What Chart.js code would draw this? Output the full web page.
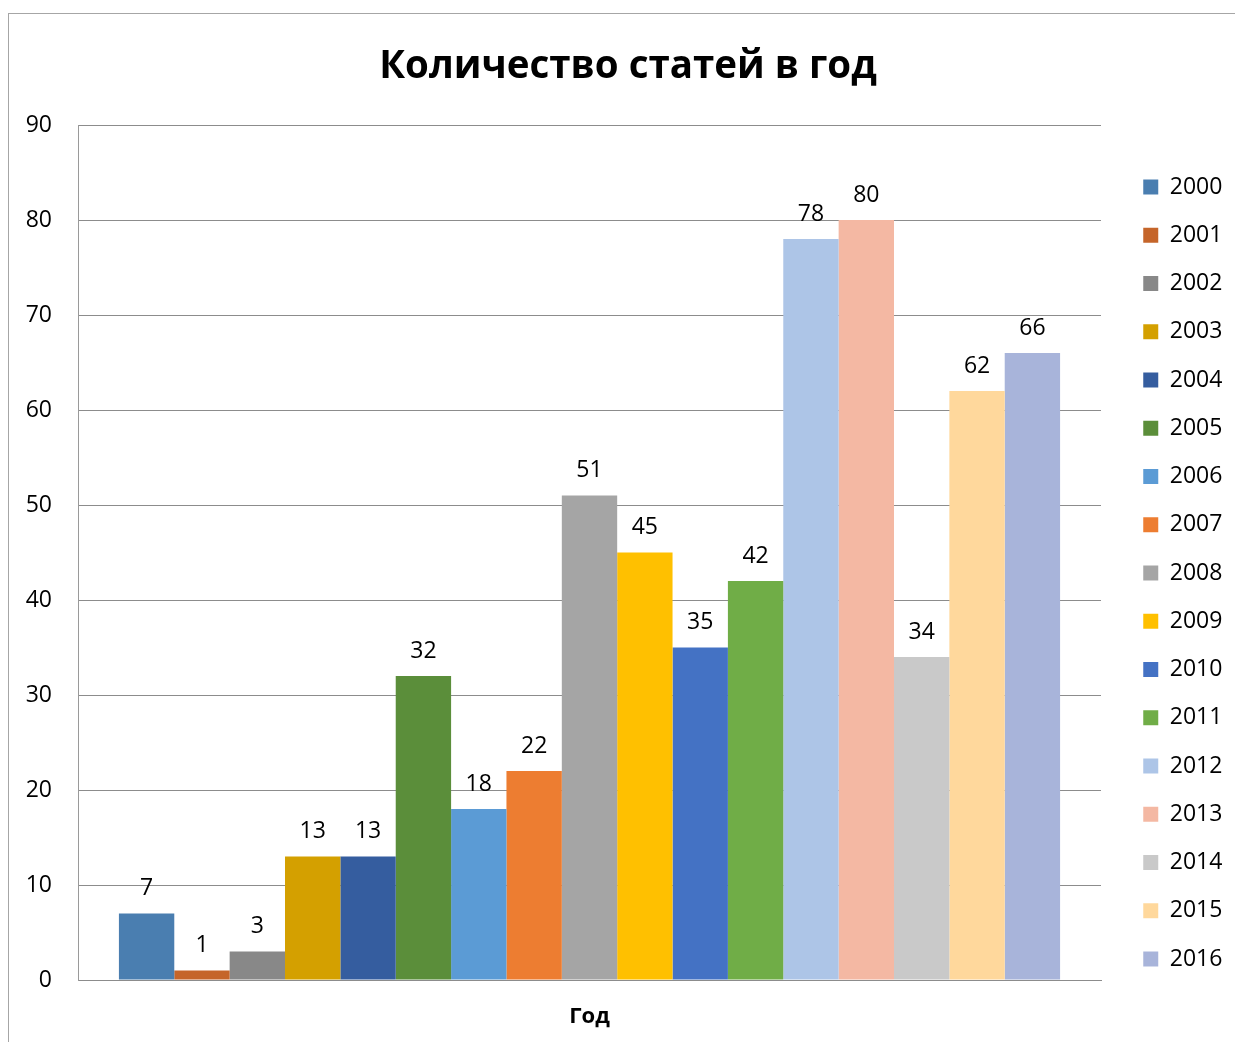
<!DOCTYPE html>
<html>
<head>
<meta charset="utf-8">
<title>Количество статей в год</title>
<script src="https://cdn.jsdelivr.net/npm/chart.js@4.4.1/dist/chart.umd.min.js"></script>
<style>
  html, body { margin: 0; padding: 0; background: #fff; overflow: hidden; }
  #frame {
    position: absolute; left: 8px; top: 13px;
    width: 1300px; height: 1100px;
    border: 1px solid #a6a6a6;
  }
  #myChart { position: absolute; left: 0; top: 0; }
</style>
</head>
<body>
<div id="frame"></div>
<canvas id="myChart" width="1235" height="1042"></canvas>
<script>
"use strict";
// data
var categories = ['Год'];
var years = ['2000', '2001', '2002', '2003', '2004', '2005', '2006', '2007', '2008',
  '2009', '2010', '2011', '2012', '2013', '2014', '2015', '2016'];
var counts = [7, 1, 3, 13, 13, 32, 18, 22, 51, 45, 35, 42, 78, 80, 34, 62, 66];
var colors = ['#4a7eb0', '#c5652a', '#888888', '#d4a000', '#355d9f', '#5b8e3a',
  '#5b9bd5', '#ed7d31', '#a5a5a5', '#ffc000', '#4472c4', '#70ad47',
  '#adc5e7', '#f4b8a3', '#c9c9c9', '#ffd89c', '#a8b4da'];
var yTicks = { min: 0, max: 90, step: 10 };

var FONT = "'Open Sans', 'Noto Sans', sans-serif";
Chart.defaults.color = '#000';
Chart.defaults.font.family = FONT;

var datasets = [];
for (var i = 0; i < years.length; i++) {
  datasets.push({
    label: years[i],
    data: [counts[i]],
    backgroundColor: colors[i],
    borderWidth: 0
  });
}

// value labels above each bar
var valueLabels = {
  id: 'valueLabels',
  afterDatasetsDraw: function (chart) {
    var ctx = chart.ctx;
    ctx.save();
    ctx.font = '23px ' + FONT;
    ctx.fillStyle = '#000';
    ctx.textAlign = 'center';
    ctx.textBaseline = 'middle';
    chart.data.datasets.forEach(function (ds, i) {
      var bar = chart.getDatasetMeta(i).data[0];
      ctx.fillText(String(ds.data[0]), bar.x, bar.y - 25);
    });
    ctx.restore();
  }
};

// fixed legend width so the plot area ends where the reference does
var legendWidth = {
  id: 'legendWidth',
  afterInit: function (chart) {
    var lg = chart.legend;
    var fit = lg.fit;
    lg.fit = function () {
      fit.call(this);
      this.width = 117;
    };
  }
};

var ctx = document.getElementById('myChart');
var myChart = new Chart(ctx, {
  type: 'bar',
  data: { labels: categories, datasets: datasets },
  plugins: [valueLabels, legendWidth],
  options: {
    responsive: false,
    animation: false,
    devicePixelRatio: 1,
    layout: { padding: { left: 21, right: 0, top: 0, bottom: 0 } },
    datasets: {
      bar: { categoryPercentage: 0.92, barPercentage: 1 }
    },
    plugins: {
      tooltip: { enabled: false },
      title: {
        display: true,
        text: 'Количество статей в год',
        color: '#000',
        font: { size: 38.5, weight: 'bold', lineHeight: 1.2 },
        padding: { top: 44, bottom: 34.8 }
      },
      legend: {
        position: 'right',
        align: 'center',
        title: {
          display: true,
          text: ' ',
          font: { size: 10, lineHeight: 1 },
          padding: { top: 94, bottom: 0 }
        },
        labels: {
          boxWidth: 15,
          boxHeight: 15,
          padding: 25.25,
          color: '#000',
          font: { size: 23 }
        }
      }
    },
    scales: {
      x: {
        grid: { display: false, drawTicks: false, tickLength: 0 },
        border: { display: true, color: '#8c8c8c', width: 1 },
        ticks: { padding: 23.5, font: { size: 22, weight: 'bold' } },
        afterFit: function (s) { s.height = 62; }
      },
      y: {
        min: yTicks.min,
        max: yTicks.max,
        grid: { color: '#8c8c8c', lineWidth: 1, drawTicks: false, tickLength: 0 },
        border: { display: true, color: '#9a9a9a', width: 1 },
        ticks: { stepSize: yTicks.step, padding: 26, font: { size: 23 } },
        afterFit: function (s) { s.width = 57; }
      },
      gap: {
        type: 'linear',
        position: 'right',
        display: true,
        grid: { display: false, drawTicks: false },
        border: { display: false },
        ticks: { display: false },
        afterFit: function (s) { s.width = 17; }
      }
    }
  }
});
</script>
</body>
</html>
